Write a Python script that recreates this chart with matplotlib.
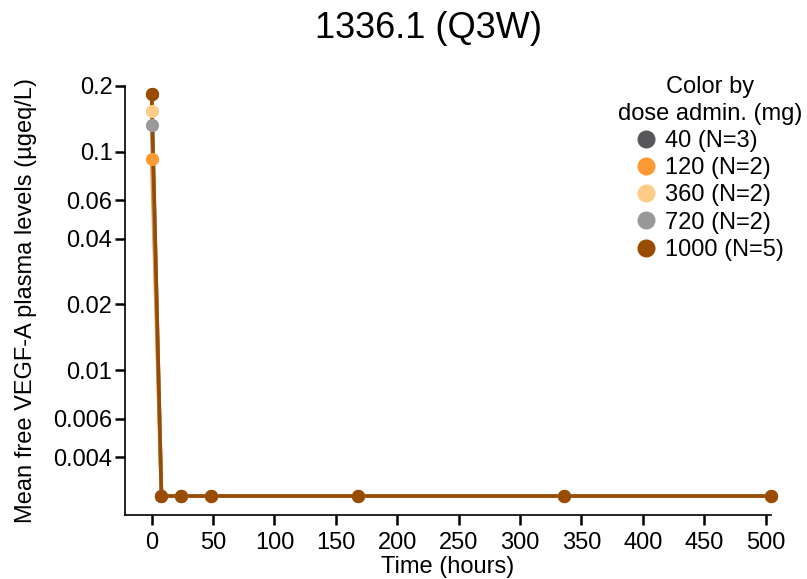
import numpy as np
import matplotlib.pyplot as plt
from matplotlib.lines import Line2D

plt.rcParams['font.family'] = ['Liberation Sans', 'DejaVu Sans']

# Timpii de esantionare (ore) si nivelurile medii (ugeq/L) pe doza
time_h = [0, 8, 24, 48, 168, 336, 504]
doses = ['40', '120', '360', '720', '1000']
n_subj = [3, 2, 2, 2, 5]
colors = ['#58585A', '#FF9933', '#FFCC88', '#999999', '#994C00']
conc = {
    '40':   [0.183, 0.00265, 0.00265, 0.00265, 0.00265, 0.00265, 0.00265],
    '120':  [0.093, 0.00265, 0.00265, 0.00265, 0.00265, 0.00265, 0.00265],
    '360':  [0.154, 0.00265, 0.00265, 0.00265, 0.00265, 0.00265, 0.00265],
    '720':  [0.133, 0.00265, 0.00265, 0.00265, 0.00265, 0.00265, 0.00265],
    '1000': [0.183, 0.00265, 0.00265, 0.00265, 0.00265, 0.00265, 0.00265],
}
y_ticks = [0.004, 0.006, 0.01, 0.02, 0.04, 0.06, 0.1, 0.2]
y_labels = ['0.004', '0.006', '0.01', '0.02', '0.04', '0.06', '0.1', '0.2']
x_ticks = list(range(0, 501, 50))

fig = plt.figure(figsize=(8.07, 5.79), dpi=100)
ax = fig.add_axes([125 / 807, 1 - 515 / 579, 646 / 807, 429 / 579])

for d, c in zip(doses, colors):
    ax.plot(time_h, conc[d], '-', color=c, lw=2.6, zorder=2, clip_on=False)
for d, c in zip(doses, colors):
    ax.plot(time_h, conc[d], 'o', color=c, ms=9.5, mec='none', zorder=3, clip_on=False)

ax.set_yscale('log')
ax.set_ylim(0.00217, 0.2)
ax.set_xlim(-21.7, 504.3)
ax.set_yticks(y_ticks)
ax.set_yticklabels(y_labels)
ax.minorticks_off()
ax.set_xticks(x_ticks)

for s in ['top', 'right']:
    ax.spines[s].set_visible(False)
for s in ['left', 'bottom']:
    ax.spines[s].set_linewidth(1.2)
ax.tick_params(labelsize=17, length=7, width=1.8)
ax.tick_params(axis='x', pad=5)
ax.tick_params(axis='y', pad=2)

ax.set_xlabel('Time (hours)', fontsize=17, labelpad=2)
ax.set_ylabel('Mean free VEGF-A plasma levels (µgeq/L)', fontsize=17, labelpad=12)

fig.text(428.5 / 807, 1 - 29 / 579, '1336.1 (Q3W)', fontsize=26, ha='center', va='center')

handles = [Line2D([], [], ls='none', marker='o', color=c, ms=13, mec='none') for c in colors]
labels = [f'{d} (N={n})' for d, n in zip(doses, n_subj)]
leg = fig.legend(handles, labels, title='Color by\ndose admin. (mg)', loc='upper center',
                 bbox_to_anchor=(710 / 807, 1 - 64 / 579), frameon=False, fontsize=17,
                 title_fontsize=17, handlelength=0.8, handletextpad=0.4, labelspacing=0.22,
                 borderpad=0)
leg.get_title().set_multialignment('center')
leg.get_title().set_linespacing(1.3)

fig.savefig('out.png', dpi=100)
